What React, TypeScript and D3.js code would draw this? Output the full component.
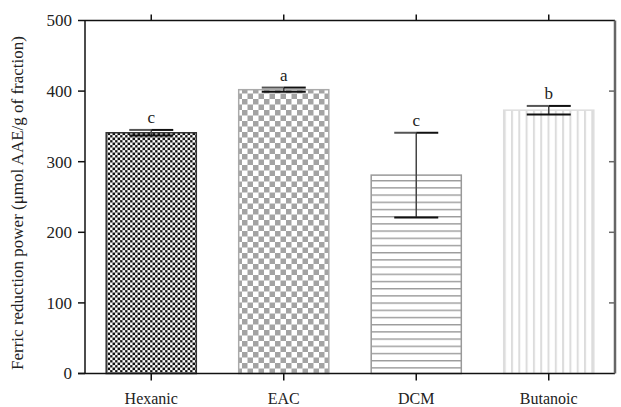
import React from 'react';
import * as d3 from 'd3';

// Ferric reducing power by fraction
const categories = ['Hexanic', 'EAC', 'DCM', 'Butanoic'];
const means = [341, 402, 281, 373];
const errors = [4, 3, 60, 6];
const letters = ['c', 'a', 'c', 'b'];
const yTicks = [0, 100, 200, 300, 400, 500];

const width = 621;
const height = 407;
const margin = { top: 20.5, right: 6, bottom: 33.5, left: 85 };
const font = "'Liberation Serif', 'DejaVu Serif', serif";

const patternIds = ['pat-hex', 'pat-eac', 'pat-dcm', 'pat-but'];
const strokes = ['#333', '#aaa', '#999', '#ddd'];

export default function App() {
  const x = d3
    .scaleBand<string>()
    .domain(categories)
    .range([margin.left, width - margin.right])
    .paddingInner(0.32)
    .paddingOuter(0.16);

  const y = d3
    .scaleLinear()
    .domain([0, 500])
    .range([height - margin.bottom, margin.top]);

  const x0 = margin.left;
  const x1 = width - margin.right;
  const y0 = height - margin.bottom;
  const y1 = margin.top;
  const capW = 44;

  return (
    <svg
      width={width}
      height={height}
      style={{ position: 'absolute', left: 0, top: 0, background: '#fff' }}
    >
      <defs>
        {/* dense black checkerboard */}
        <pattern id="pat-hex" width={5} height={5} patternUnits="userSpaceOnUse">
          <rect width={5} height={5} fill="#fff" />
          <rect x={0} y={0} width={2.5} height={2.5} fill="#111" />
          <rect x={2.5} y={2.5} width={2.5} height={2.5} fill="#111" />
          <path d="M0,0H5M0,2.5H5M0,0V5M2.5,0V5" stroke="#999" strokeWidth={0.5} />
        </pattern>
        {/* coarse grey checkerboard */}
        <pattern id="pat-eac" width={11} height={11} patternUnits="userSpaceOnUse">
          <rect width={11} height={11} fill="#fff" />
          <rect x={0} y={0} width={5.5} height={5.5} fill="#a3a3a3" />
          <rect x={5.5} y={5.5} width={5.5} height={5.5} fill="#a3a3a3" />
        </pattern>
        {/* horizontal lines */}
        <pattern id="pat-dcm" width={10} height={7.2} patternUnits="userSpaceOnUse">
          <rect width={10} height={7.2} fill="#fff" />
          <line x1={0} x2={10} y1={0.7} y2={0.7} stroke="#9a9a9a" strokeWidth={1.4} />
        </pattern>
        {/* vertical lines */}
        <pattern id="pat-but" width={7.3} height={10} patternUnits="userSpaceOnUse">
          <rect width={7.3} height={10} fill="#fff" />
          <line x1={1} x2={1} y1={0} y2={10} stroke="#dcdcdc" strokeWidth={2} />
        </pattern>
      </defs>

      {/* Bars */}
      {categories.map((c, i) => (
        <rect
          key={c}
          x={x(c)}
          y={y(means[i])}
          width={x.bandwidth()}
          height={y(0) - y(means[i])}
          fill={`url(#${patternIds[i]})`}
          stroke={strokes[i]}
          strokeWidth={1.5}
        />
      ))}

      {/* Error bars */}
      {categories.map((c, i) => {
        const cx = (x(c) as number) + x.bandwidth() / 2;
        const hi = y(means[i] + errors[i]);
        const lo = y(means[i] - errors[i]);
        return (
          <g key={c}>
            <line x1={cx} x2={cx} y1={hi} y2={lo} stroke="#444" strokeWidth={1.5} />
            <line x1={cx - capW / 2} x2={cx} y1={hi} y2={hi} stroke="#555" strokeWidth={2} />
            <line x1={cx} x2={cx + capW / 2} y1={hi} y2={hi} stroke="#111" strokeWidth={2} />
            <line x1={cx - capW / 2} x2={cx + capW / 2} y1={lo} y2={lo} stroke="#111" strokeWidth={2} />
            <text
              x={cx}
              y={hi - 7}
              textAnchor="middle"
              fontFamily={font}
              fontSize={17}
              fill="#222"
            >
              {letters[i]}
            </text>
          </g>
        );
      })}

      {/* Frame */}
      <line x1={x0} x2={x1} y1={y1} y2={y1} stroke="#111" strokeWidth={1.5} />
      <line x1={x0 - 7} x2={x1} y1={y0} y2={y0} stroke="#111" strokeWidth={1.5} />
      <line x1={x0} x2={x0} y1={y1} y2={y0} stroke="#111" strokeWidth={1.5} />
      <line x1={x1} x2={x1} y1={y1} y2={y0} stroke="#666" strokeWidth={2.5} />

      {/* Y ticks */}
      {yTicks.map((t) => (
        <g key={t}>
          <line x1={x0 - 7} x2={x0} y1={y(t)} y2={y(t)} stroke="#111" strokeWidth={1.5} />
          {t > 0 && t < 500 && (
            <line x1={x1 - 6} x2={x1} y1={y(t)} y2={y(t)} stroke="#666" strokeWidth={1.5} />
          )}
          <text
            x={x0 - 13}
            y={y(t)}
            dy="0.35em"
            textAnchor="end"
            fontFamily={font}
            fontSize={17}
            fill="#222"
          >
            {t}
          </text>
        </g>
      ))}

      {/* X ticks + labels */}
      {categories.map((c) => {
        const cx = (x(c) as number) + x.bandwidth() / 2;
        return (
          <g key={c}>
            <line x1={cx} x2={cx} y1={y1 - 6} y2={y1} stroke="#111" strokeWidth={1.5} />
            <line x1={cx} x2={cx} y1={y0} y2={y0 + 7} stroke="#111" strokeWidth={1.5} />
            <text
              x={cx}
              y={y0 + 30}
              textAnchor="middle"
              fontFamily={font}
              fontSize={16}
              fill="#222"
            >
              {c}
            </text>
          </g>
        );
      })}

      {/* Y axis title */}
      <text
        transform={`translate(23,${(y0 + y1) / 2 + 6}) rotate(-90)`}
        textAnchor="middle"
        fontFamily={font}
        fontSize={17}
        fill="#222"
      >
        Ferric reduction power (μmol AAE/g of fraction)
      </text>
    </svg>
  );
}
